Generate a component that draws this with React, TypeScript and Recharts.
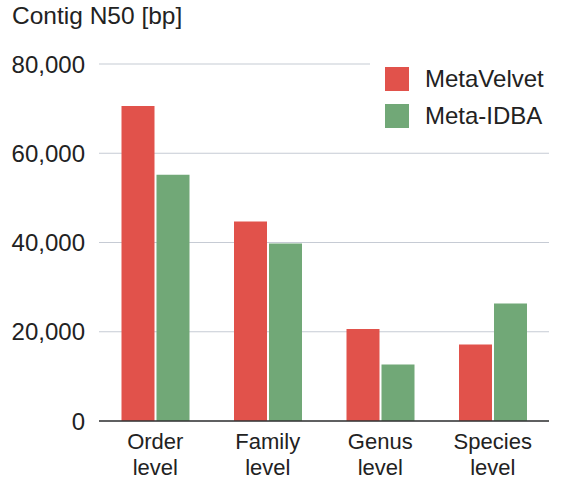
import React from "react";
import { BarChart, Bar, XAxis, YAxis, CartesianGrid, Legend } from "recharts";

const categories = ["Order level", "Family level", "Genus level", "Species level"];
const metaVelvet = [70600, 44700, 20600, 17150];
const metaIDBA = [55200, 39800, 12650, 26350];
const yTicks = [0, 20000, 40000, 60000, 80000];
const seriesNames = ["MetaVelvet", "Meta-IDBA"];
const seriesColors = ["#e1524b", "#71a877"];

const data = categories.map((c, i) => ({
  name: c,
  MetaVelvet: metaVelvet[i],
  "Meta-IDBA": metaIDBA[i],
}));

const FONT = '"Liberation Sans", Arial, Helvetica, sans-serif';

const XTick = (props: any) => {
  const { x, y, payload } = props;
  const parts = String(payload.value).split(" ");
  return (
    <g>
      {parts.map((p: string, i: number) => (
        <text
          key={i}
          x={x}
          y={y + 28 + i * 26}
          textAnchor="middle"
          fontSize={22}
          fontFamily={FONT}
          fill="#222"
        >
          {p}
        </text>
      ))}
    </g>
  );
};

const renderLegend = () => (
  <div style={{ background: "#fff", width: 190, height: 95, position: "relative", fontFamily: FONT }}>
    {seriesNames.map((n, i) => (
      <div key={n} style={{ position: "absolute", left: 15, top: 16.5 + i * 37.5, display: "flex", alignItems: "center" }}>
        <div style={{ width: 24, height: 24, background: seriesColors[i] }} />
        <span style={{ marginLeft: 16, fontSize: 24, color: "#222", lineHeight: "24px" }}>{n}</span>
      </div>
    ))}
  </div>
);

export default function App() {
  return (
    <div style={{ position: "absolute", left: 0, top: 0, width: 568, height: 487, background: "#fff" }}>
      <div
        style={{
          position: "absolute",
          left: 12,
          top: 1.5,
          fontSize: 24.5,
          lineHeight: "normal",
          fontFamily: FONT,
          color: "#222",
          whiteSpace: "nowrap",
        }}
      >
        Contig N50 [bp]
      </div>
      <BarChart
        width={568}
        height={487}
        data={data}
        margin={{ top: 64, right: 19, bottom: 10, left: 0 }}
        barCategoryGap="20%"
        barGap={2}
      >
        <CartesianGrid vertical={false} stroke="#c6cbd4" strokeWidth={1.2} />
        <XAxis
          dataKey="name"
          height={56}
          tickSize={0}
          tickMargin={0}
          tick={<XTick />}
          axisLine={{ stroke: "#333", strokeWidth: 1.5 }}
          tickLine={false}
          interval={0}
        />
        <YAxis
          width={99}
          domain={[0, 80000]}
          ticks={yTicks}
          tickSize={0}
          tickMargin={14}
          axisLine={false}
          tickLine={false}
          tickFormatter={(v: number) => v.toLocaleString("en-US")}
          tick={{ fontSize: 24, fontFamily: FONT, fill: "#222" }}
        />
        <Legend
          layout="vertical"
          align="center"
          verticalAlign="middle"
          content={renderLegend}
          wrapperStyle={{ left: 370, top: 50, width: 190, height: 95 }}
        />
        <Bar dataKey="MetaVelvet" fill={seriesColors[0]} isAnimationActive={false} />
        <Bar dataKey="Meta-IDBA" fill={seriesColors[1]} isAnimationActive={false} />
      </BarChart>
    </div>
  );
}
